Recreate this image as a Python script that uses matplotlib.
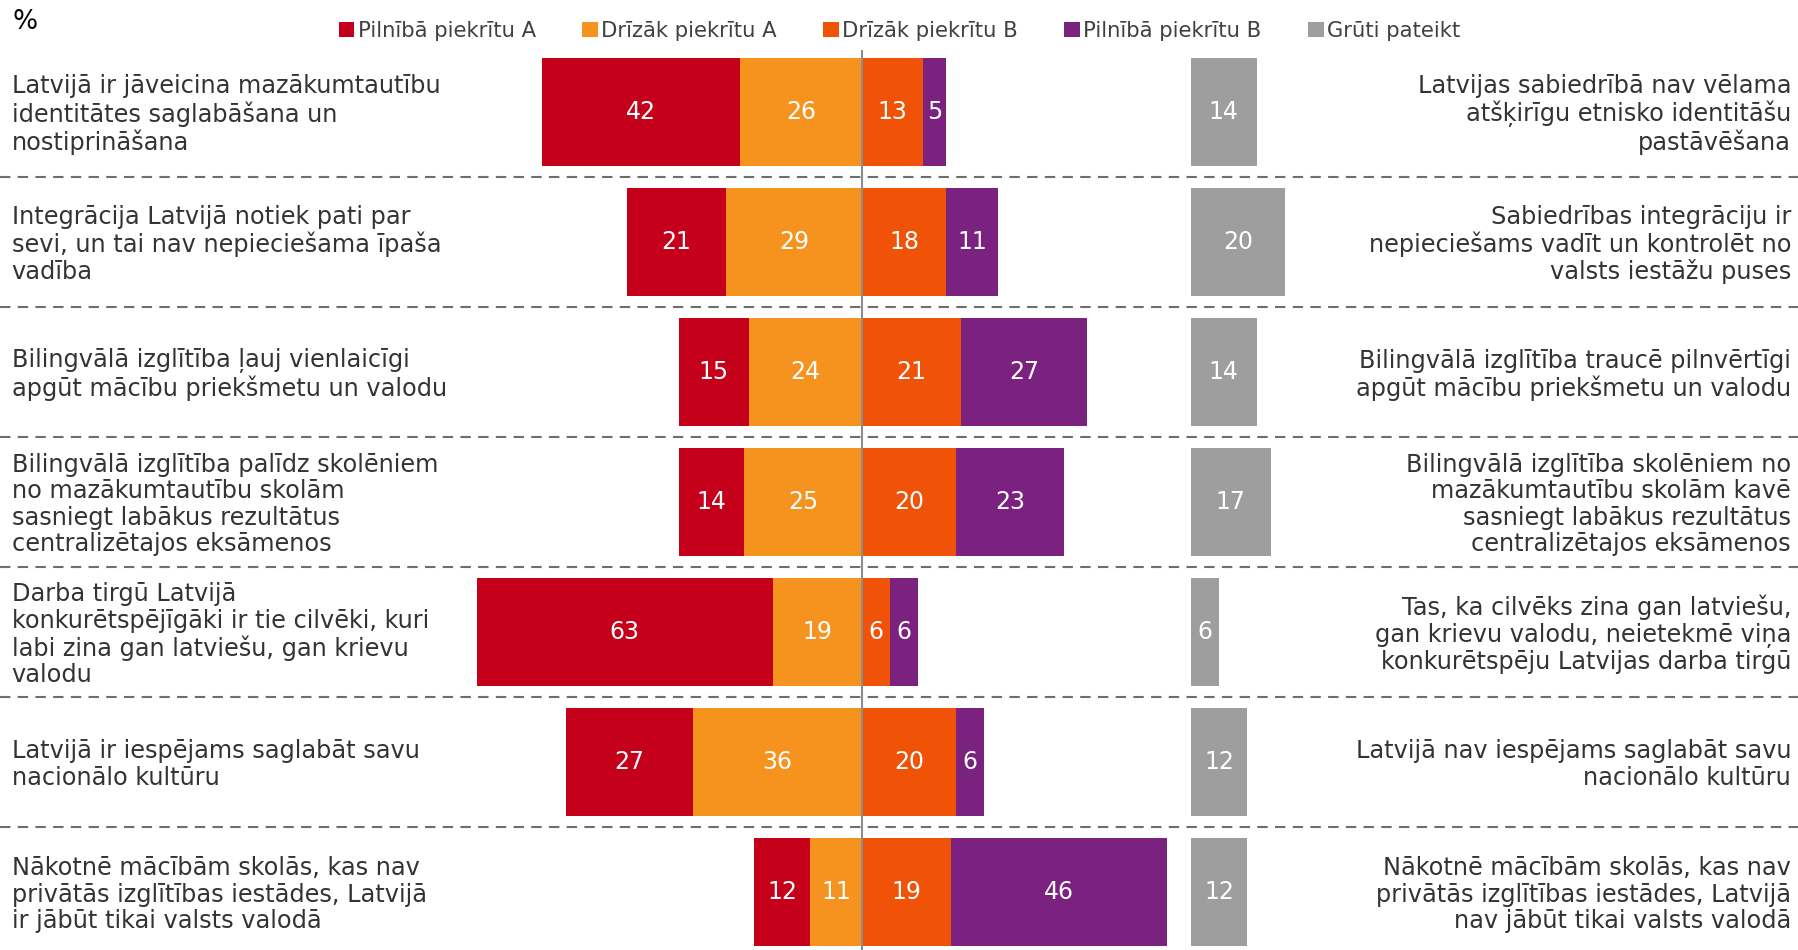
import matplotlib
matplotlib.use("Agg")
import matplotlib.pyplot as plt
from matplotlib.patches import Patch

plt.rcParams["font.family"] = ["DejaVu Sans"]

left_statements = [
    "Latvijā ir jāveicina mazākumtautību\nidentitātes saglabāšana un\nnostiprināšana",
    "Integrācija Latvijā notiek pati par\nsevi, un tai nav nepieciešama īpaša\nvadība",
    "Bilingvālā izglītība ļauj vienlaicīgi\napgūt mācību priekšmetu un valodu",
    "Bilingvālā izglītība palīdz skolēniem\nno mazākumtautību skolām\nsasniegt labākus rezultātus\ncentralizētajos eksāmenos",
    "Darba tirgū Latvijā\nkonkurētspējīgāki ir tie cilvēki, kuri\nlabi zina gan latviešu, gan krievu\nvalodu",
    "Latvijā ir iespējams saglabāt savu\nnacionālo kultūru",
    "Nākotnē mācībām skolās, kas nav\nprivātās izglītības iestādes, Latvijā\nir jābūt tikai valsts valodā",
]
right_statements = [
    "Latvijas sabiedrībā nav vēlama\natšķirīgu etnisko identitāšu\npastāvēšana",
    "Sabiedrības integrāciju ir\nnepieciešams vadīt un kontrolēt no\nvalsts iestāžu puses",
    "Bilingvālā izglītība traucē pilnvērtīgi\napgūt mācību priekšmetu un valodu",
    "Bilingvālā izglītība skolēniem no\nmazākumtautību skolām kavē\nsasniegt labākus rezultātus\ncentralizētajos eksāmenos",
    "Tas, ka cilvēks zina gan latviešu,\ngan krievu valodu, neietekmē viņa\nkonkurētspēju Latvijas darba tirgū",
    "Latvijā nav iespējams saglabāt savu\nnacionālo kultūru",
    "Nākotnē mācībām skolās, kas nav\nprivātās izglītības iestādes, Latvijā\nnav jābūt tikai valsts valodā",
]

series_names = ["Pilnībā piekrītu A", "Drīzāk piekrītu A", "Drīzāk piekrītu B",
                "Pilnībā piekrītu B", "Grūti pateikt"]
fully_a = [42, 21, 15, 14, 63, 27, 12]
rather_a = [26, 29, 24, 25, 19, 36, 11]
rather_b = [13, 18, 21, 20, 6, 20, 19]
fully_b = [5, 11, 27, 23, 6, 6, 46]
hard_to_say = [14, 20, 14, 17, 6, 12, 12]

colors = ["#C4001A", "#F6921E", "#F05208", "#7B2281", "#9E9E9E"]
text_color = "#333333"
gray_offset = 70
bar_h = 0.83

fig = plt.figure(figsize=(17.99, 9.5), dpi=100)
ax = fig.add_axes([0, 0, 1, 1])
ax.set_xlim(-183.4, 199.4)
ax.set_ylim(6.446, -0.8615)
ax.axis("off")

rows = list(range(len(fully_a)))

def segment(left, width, color):
    c = ax.barh(rows, width, left=left, height=bar_h, color=color, linewidth=0)
    ax.bar_label(c, labels=[str(v) for v in width], label_type="center",
                 color="white", fontsize=17)
    return c

segment([-(a + b) for a, b in zip(fully_a, rather_a)], fully_a, colors[0])
segment([-b for b in rather_a], rather_a, colors[1])
segment([0] * len(rows), rather_b, colors[2])
segment(rather_b, fully_b, colors[3])
segment([gray_offset] * len(rows), hard_to_say, colors[4])

# row separators
for i in rows[:-1]:
    ax.axhline(i + 0.5, color="#6E6E6E", lw=1.5, dashes=(5, 3.5), zorder=0)

# centre divider
ax.vlines(0, -0.48, 6.446, color="#8C8C8C", lw=1.5, zorder=3)

for i in rows:
    ax.text(-180.9, i + 0.02, left_statements[i], ha="left", va="center",
            fontsize=17.3, color=text_color, linespacing=1.13)
    ax.text(197.7, i + 0.02, right_statements[i], ha="right", va="center",
            fontsize=17.3, color=text_color, linespacing=1.13)

fig.text(13 / 1799, 1 - 22 / 950, "%", fontsize=19, color="black",
         ha="left", va="center")

handles = [Patch(facecolor=c, edgecolor="none") for c in colors]
fig.legend(handles, series_names, loc="center", bbox_to_anchor=(0.5, 1 - 31 / 950),
           ncol=5, frameon=False, fontsize=15.2, handlelength=0.75, handleheight=0.75,
           handletextpad=0.15, columnspacing=2.2, labelcolor="#404040")

fig.savefig("out.png", dpi=100)
